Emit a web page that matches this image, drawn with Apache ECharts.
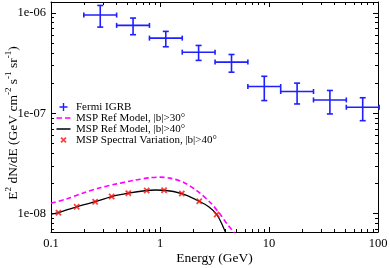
<!DOCTYPE html>
<html>
<head>
<meta charset="utf-8">
<script src="https://cdn.jsdelivr.net/npm/echarts@6/dist/echarts.min.js"></script>
<style>
html,body{margin:0;padding:0;background:#fff;}
#chart{width:390px;height:268px;}
</style>
</head>
<body>
<div id="chart"></div>
<script>
// ---- data ----
const igrbEnergy     = [0.283, 0.566, 1.13, 2.26, 4.53, 9.05, 18.1, 36.2, 72.4];
const igrbEnergyLow  = [0.2, 0.4, 0.8, 1.6, 3.2, 6.4, 12.8, 25.6, 51.2];
const igrbEnergyHigh = [0.4, 0.8, 1.6, 3.2, 6.4, 12.8, 25.6, 51.2, 102.4];
const igrbFlux       = [9.55e-7, 7.53e-7, 5.62e-7, 4.07e-7, 3.24e-7, 1.85e-7, 1.65e-7, 1.36e-7, 1.15e-7];
const igrbFluxLow    = [7.24e-7, 6.08e-7, 4.61e-7, 3.37e-7, 2.57e-7, 1.34e-7, 1.24e-7, 9.86e-8, 8.45e-8];
const igrbFluxHigh   = [1.19e-6, 8.91e-7, 6.56e-7, 4.75e-7, 3.86e-7, 2.34e-7, 2.0e-7, 1.69e-7, 1.43e-7];

const model30Energy = [0.1, 0.139, 0.198, 0.282, 0.401, 0.569, 0.809, 1.0, 1.235, 1.636, 2.17, 2.875, 3.55, 4.23, 4.78, 5.1];
const model30Flux   = [1.27e-8, 1.40e-8, 1.61e-8, 1.81e-8, 1.98e-8, 2.14e-8, 2.28e-8, 2.31e-8, 2.26e-8, 2.06e-8, 1.70e-8, 1.30e-8, 9.93e-9, 7.59e-9, 6.52e-9, 5.6e-9];

const model40Energy = [0.1, 0.117, 0.172, 0.254, 0.36, 0.512, 0.755, 0.9, 1.09, 1.585, 2.29, 2.8, 3.31, 3.66, 3.9, 4.2];
const model40Flux   = [9.9e-9, 1.023e-8, 1.17e-8, 1.315e-8, 1.48e-8, 1.60e-8, 1.70e-8, 1.72e-8, 1.71e-8, 1.585e-8, 1.33e-8, 1.17e-8, 9.82e-9, 8.07e-9, 6.9e-9, 5.8e-9];

const variationEnergy = [0.117, 0.172, 0.254, 0.36, 0.512, 0.755, 1.09, 1.585, 2.29, 3.31];
const variationFlux   = [1.023e-8, 1.17e-8, 1.315e-8, 1.48e-8, 1.60e-8, 1.70e-8, 1.71e-8, 1.585e-8, 1.33e-8, 9.82e-9];

const seriesNames = ['Fermi IGRB', 'MSP Ref Model, |b|>30°', 'MSP Ref Model, |b|>40°', 'MSP Spectral Variation, |b|>40°'];

const xRange = [0.1, 100];
const yRange = [6.56e-9, 1.288e-6];
const xMajorTicks = [0.1, 1, 10, 100];
const xTickLabels = ['0.1', '1', '10', '100'];
const yMajorTicks = [1e-8, 1e-7, 1e-6];
const yTickLabels = ['1e-08', '1e-07', '1e-06'];
const mantissas = [2, 3, 4, 5, 6, 7, 8, 9];
const xMinorTicks = [];
[0.1, 1, 10].forEach(d => mantissas.forEach(m => xMinorTicks.push(+(m * d).toPrecision(3))));
const yMinorTicks = [];
[1e-9, 1e-8, 1e-7].forEach(d => mantissas.forEach(m => yMinorTicks.push(+(m * d).toPrecision(3))));

// ---- styles ----
const serif = 'Liberation Serif';
const BLUE = '#1f1fff', MAGENTA = '#ff00ff', RED = '#ff1010';

function pickLabel(v, vals, labels) {
  let best = 0, bd = Infinity;
  vals.forEach((t, i) => { const d = Math.abs(Math.log10(v) - Math.log10(t)); if (d < bd) { bd = d; best = i; } });
  return labels[best];
}
function xPoly(ox, oy, s) {
  const p = [[0,2],[2,0],[5,3],[8,0],[10,2],[7,5],[10,8],[8,10],[5,7],[2,10],[0,8],[3,5]];
  return p.map((q, i) => (i ? 'L' : 'M') + (ox + q[0] * s).toFixed(2) + ',' + (oy + q[1] * s).toFixed(2)).join(' ') + ' Z';
}
function rect(x, y, w, h) { return 'M' + x + ',' + y + ' L' + (x + w) + ',' + y + ' L' + (x + w) + ',' + (y + h) + ' L' + x + ',' + (y + h) + ' Z '; }
const frame = 'M0,0 L0.01,0 M15,10 L14.99,10 ';
const plusIcon = 'path://' + frame + 'M6.8,1 L8.2,1 L8.2,4.3 L11.5,4.3 L11.5,5.7 L8.2,5.7 L8.2,9 L6.8,9 L6.8,5.7 L3.5,5.7 L3.5,4.3 L6.8,4.3 Z';
const xIcon = 'path://' + frame + xPoly(4.4, 1.9, 0.62);
const dashIcon = 'path://' + frame + rect(0.5, 4.2, 5.5, 1.6) + rect(9, 4.2, 5.5, 1.6);
const solidIcon = 'path://' + frame + rect(0.5, 4.35, 14, 1.3);
const xSymbol = 'path://' + xPoly(0, 0, 1);

// main log axes (data + labels)
function logAxis(kind, pos, extra) {
  const r = kind === 'x' ? xRange : yRange;
  const vals = kind === 'x' ? xMajorTicks : yMajorTicks;
  const labs = kind === 'x' ? xTickLabels : yTickLabels;
  return Object.assign({
    type: 'log', logBase: 10, position: pos, offset: 0, min: r[0], max: r[1],
    axisLine: { show: true, onZero: false, lineStyle: { color: '#000', width: 1 } },
    axisTick: { show: false },
    axisLabel: {
      show: true, customValues: vals, margin: 5,
      fontFamily: serif, fontSize: 12.5, color: '#000',
      formatter: v => pickLabel(v, vals, labs)
    },
    splitLine: { show: false }, minorTick: { show: false }, minorSplitLine: { show: false },
    nameMoveOverlap: false, silent: true
  }, extra || {});
}
// tick-only axes: positions in log10 space, laid out by the library
function tickAxis(kind, pos, ticks, len, withLine) {
  const r = kind === 'x' ? xRange : yRange;
  return {
    type: 'value', position: pos, offset: 0,
    min: Math.log10(r[0]), max: Math.log10(r[1]),
    axisLine: { show: true, onZero: false, lineStyle: { color: withLine ? '#000' : 'rgba(0,0,0,0)', width: 1 } },
    axisTick: { show: true, inside: true, length: len, customValues: ticks.map(v => Math.log10(v)), lineStyle: { color: '#000', width: 1 } },
    axisLabel: { show: false },
    splitLine: { show: false }, minorTick: { show: false }, minorSplitLine: { show: false },
    silent: true
  };
}

const igrbData = igrbEnergy.map((e, i) => [e, igrbFlux[i], igrbEnergyLow[i], igrbEnergyHigh[i], igrbFluxLow[i], igrbFluxHigh[i]]);

const option = {
  animation: false,
  backgroundColor: '#fff',
  grid: { left: 51, right: 12, top: 2, bottom: 36, containLabel: false, outerBoundsMode: 'none' },
  xAxis: [
    logAxis('x', 'bottom', {
      name: 'Energy (GeV)', nameLocation: 'middle', nameGap: 19,
      nameTextStyle: { fontFamily: serif, fontSize: 13.5, color: '#000' }
    }),
    tickAxis('x', 'bottom', xMajorTicks, 5, false),
    tickAxis('x', 'bottom', xMinorTicks, 3, false),
    tickAxis('x', 'top', xMajorTicks, 5, true),
    tickAxis('x', 'top', xMinorTicks, 3, false)
  ],
  yAxis: [
    logAxis('y', 'left', {
      name: '{n|E}{s|2}{n| dN/dE (GeV cm}{s|-2}{n| s}{s|-1}{n| sr}{s|-1}{n|)}',
      nameLocation: 'middle', nameGap: 31,
      nameTextStyle: {
        color: '#000', padding: [0, 12, 0, 0],
        rich: {
          n: { fontFamily: serif, fontSize: 13.5, color: '#000', verticalAlign: 'bottom', lineHeight: 16 },
          s: { fontFamily: serif, fontSize: 9, color: '#000', verticalAlign: 'top', lineHeight: 16 }
        }
      }
    }),
    tickAxis('y', 'left', yMajorTicks, 5, false),
    tickAxis('y', 'left', yMinorTicks, 3, false),
    tickAxis('y', 'right', yMajorTicks, 5, true),
    tickAxis('y', 'right', yMinorTicks, 3, false)
  ],
  legend: {
    orient: 'vertical', left: 56, top: 101.5,
    itemWidth: 15, itemHeight: 10, itemGap: 0, padding: 0,
    selectedMode: false,
    textStyle: { fontFamily: serif, fontSize: 11, color: '#000', lineHeight: 10 },
    data: [
      { name: seriesNames[0], icon: plusIcon, itemStyle: { color: BLUE, borderWidth: 0 } },
      { name: seriesNames[1], icon: dashIcon, itemStyle: { color: MAGENTA, borderWidth: 0 } },
      { name: seriesNames[2], icon: solidIcon, itemStyle: { color: '#000', borderWidth: 0 } },
      { name: seriesNames[3], icon: xIcon, itemStyle: { color: RED, borderWidth: 0 } }
    ]
  },
  series: [
    {
      name: seriesNames[0], type: 'custom', color: BLUE,
      xAxisIndex: 0, yAxisIndex: 0,
      encode: { x: 0, y: 1 },
      data: igrbData,
      renderItem: function (params, api) {
        const xc = api.value(0), yc = api.value(1);
        const pl = api.coord([api.value(2), yc]);
        const ph = api.coord([api.value(3), yc]);
        const pt = api.coord([xc, api.value(5)]);
        const pb = api.coord([xc, api.value(4)]);
        const st = { stroke: BLUE, lineWidth: 1.6, fill: null };
        const ln = (x1, y1, x2, y2) => ({ type: 'line', shape: { x1, y1, x2, y2 }, style: st });
        const cx = 2.5, cy = 3;
        return {
          type: 'group',
          children: [
            ln(pl[0], pl[1], ph[0], ph[1]),
            ln(pl[0], pl[1] - cx, pl[0], pl[1] + cx),
            ln(ph[0], ph[1] - cx, ph[0], ph[1] + cx),
            ln(pt[0], pt[1], pb[0], pb[1]),
            ln(pt[0] - cy, pt[1], pt[0] + cy, pt[1]),
            ln(pb[0] - cy, pb[1], pb[0] + cy, pb[1])
          ]
        };
      },
      z: 3
    },
    {
      name: seriesNames[1], type: 'line', color: MAGENTA,
      xAxisIndex: 0, yAxisIndex: 0,
      data: model30Energy.map((e, i) => [e, model30Flux[i]]),
      showSymbol: false, symbol: 'none', smooth: 0.3, clip: true,
      lineStyle: { color: MAGENTA, width: 1.6, type: [5, 3] },
      z: 2
    },
    {
      name: seriesNames[2], type: 'line', color: '#000',
      xAxisIndex: 0, yAxisIndex: 0,
      data: model40Energy.map((e, i) => [e, model40Flux[i]]),
      showSymbol: false, symbol: 'none', smooth: 0.3, clip: true,
      lineStyle: { color: '#000', width: 1.3 },
      z: 2
    },
    {
      name: seriesNames[3], type: 'scatter', color: RED,
      xAxisIndex: 0, yAxisIndex: 0,
      data: variationEnergy.map((e, i) => [e, variationFlux[i]]),
      symbol: xSymbol, symbolSize: 6.5,
      itemStyle: { color: RED },
      z: 4
    }
  ]
};

const chart = echarts.init(document.getElementById('chart'), null, { renderer: 'canvas' });
chart.setOption(option);
</script>
</body>
</html>
